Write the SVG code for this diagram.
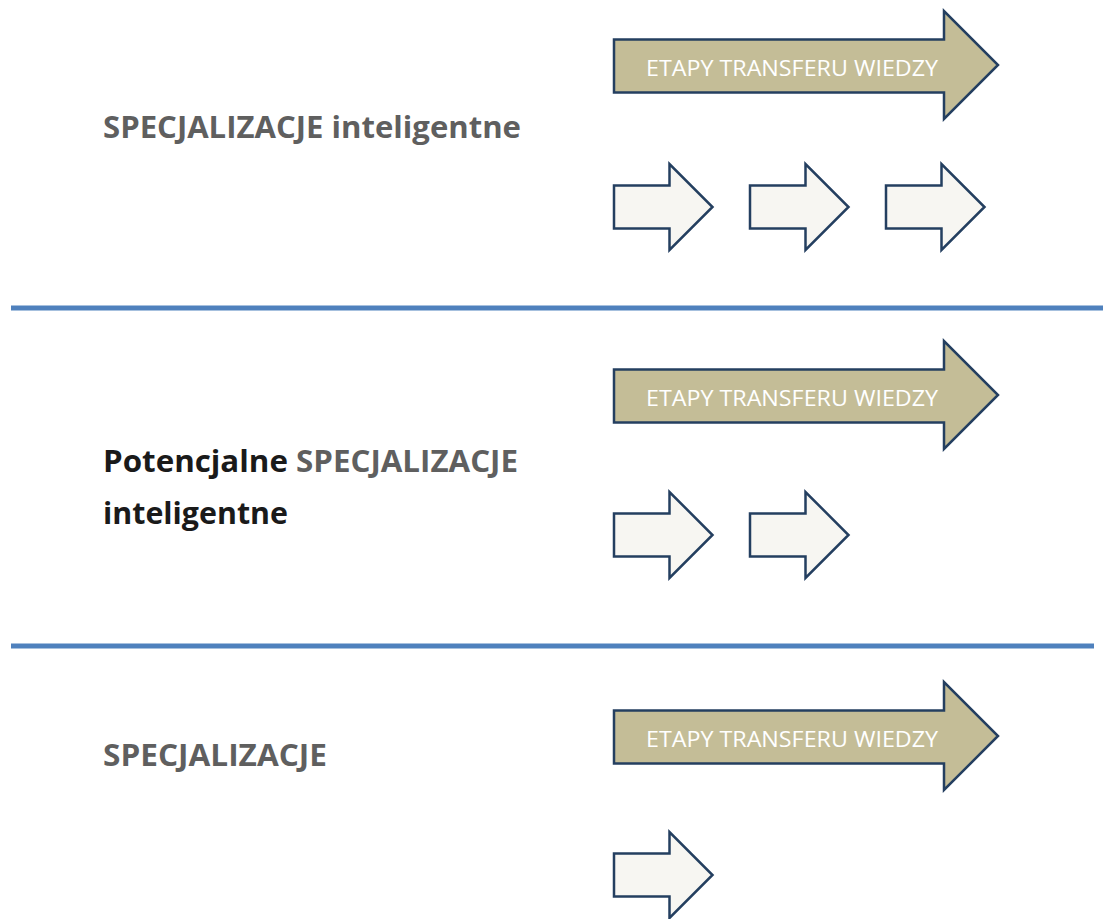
<svg xmlns="http://www.w3.org/2000/svg" width="1103" height="919" viewBox="0 0 1103 919">
<style>
.big{fill:#C4BD97;stroke:#243F60;stroke-width:2.5;stroke-linejoin:miter}
.small{fill:#F7F6F2;stroke:#243F60;stroke-width:2.5;stroke-linejoin:miter}
.at{font-family:"Open Sans","Liberation Sans",sans-serif;font-size:21.5px;fill:#FFFFFF}
.lbl{font-family:"Open Sans","Liberation Sans",sans-serif;font-size:30px;font-weight:bold}
.g{fill:#5F5F5F}
.k{fill:#1A1A1A}
.sep{stroke:#4F81BD;stroke-width:5}
</style>
<defs>
<path id="bigArrow" d="M614,39.5 H944 V11 L998,65 L944,119 V92.5 H614 Z"/>
<path id="smallArrow" d="M614,185.5 H669.5 V164 L712.5,207 L669.5,250 V228.5 H614 Z"/>
</defs>
<g id="separators">
<line class="sep" x1="11" y1="308" x2="1103" y2="308"/>
<line class="sep" x1="11" y1="646" x2="1094" y2="646"/>
</g>
<g id="label1">
<text class="lbl g" x="103" y="138" textLength="418" lengthAdjust="spacingAndGlyphs">SPECJALIZACJE inteligentne</text>
</g>
<g id="label2">
<text class="lbl" x="103" y="472" textLength="415" lengthAdjust="spacingAndGlyphs"><tspan class="k">Potencjalne </tspan><tspan class="g">SPECJALIZACJE</tspan></text>
<text class="lbl k" x="103" y="524" textLength="185" lengthAdjust="spacingAndGlyphs">inteligentne</text>
</g>
<g id="label3">
<text class="lbl g" x="103" y="766" textLength="224" lengthAdjust="spacingAndGlyphs">SPECJALIZACJE</text>
</g>
<g id="bigArrow1">
<use href="#bigArrow" class="big"/>
<text class="at" x="646" y="76" textLength="292" lengthAdjust="spacingAndGlyphs">ETAPY TRANSFERU WIEDZY</text>
</g>
<g id="bigArrow2" transform="translate(0,330)">
<use href="#bigArrow" class="big"/>
<text class="at" x="646" y="76" textLength="292" lengthAdjust="spacingAndGlyphs">ETAPY TRANSFERU WIEDZY</text>
</g>
<g id="bigArrow3" transform="translate(0,671)">
<use href="#bigArrow" class="big"/>
<text class="at" x="646" y="76" textLength="292" lengthAdjust="spacingAndGlyphs">ETAPY TRANSFERU WIEDZY</text>
</g>
<g id="smallArrow1a"><use href="#smallArrow" class="small"/></g>
<g id="smallArrow1b" transform="translate(136,0)"><use href="#smallArrow" class="small"/></g>
<g id="smallArrow1c" transform="translate(272,0)"><use href="#smallArrow" class="small"/></g>
<g id="smallArrow2a" transform="translate(0,328)"><use href="#smallArrow" class="small"/></g>
<g id="smallArrow2b" transform="translate(136,328)"><use href="#smallArrow" class="small"/></g>
<g id="smallArrow3a" transform="translate(0,668)"><use href="#smallArrow" class="small"/></g>
</svg>
